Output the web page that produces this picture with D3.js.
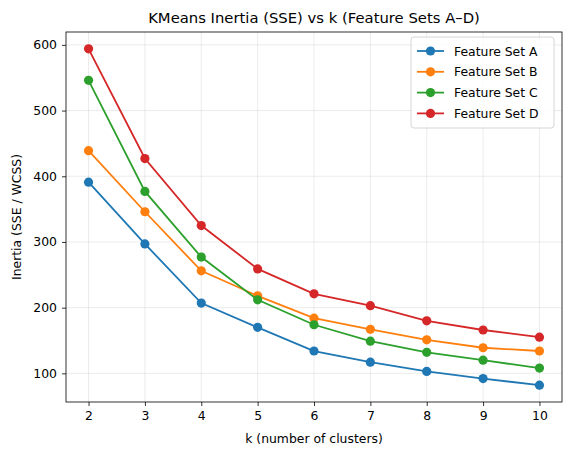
<!DOCTYPE html>
<html>
<head>
<meta charset="utf-8">
<script src="https://cdn.jsdelivr.net/npm/d3@7"></script>
<style>
  body { margin: 0; background: #fff; }
  text { font-family: "DejaVu Sans", sans-serif; }
</style>
</head>
<body>
<script>
// data
const ks = [2, 3, 4, 5, 6, 7, 8, 9, 10];
const setA = [391, 297, 207, 170, 134, 117, 103, 92, 82];
const setB = [439, 346, 256, 218, 184, 167, 151, 139, 134];
const setC = [546, 377, 277, 212, 174, 149, 132, 120, 108];
const setD = [594, 427, 325, 259, 221, 203, 180, 166, 155];
const seriesNames = ["Feature Set A", "Feature Set B", "Feature Set C", "Feature Set D"];
const colors = ["#1f77b4", "#ff7f0e", "#2ca02c", "#d62728"];
const xTicks = ks;
const yTicks = [100, 200, 300, 400, 500, 600];

const W = 571, H = 455;
const margin = {top: 32, right: 9, bottom: 53, left: 66};
const width = W - margin.left - margin.right,
      height = H - margin.top - margin.bottom;

const svg = d3.select("body").append("svg")
  .attr("width", W).attr("height", H);
const g = svg.append("g")
  .attr("transform", "translate(" + margin.left + "," + margin.top + ")");

const x = d3.scaleLinear().domain([1.6, 10.4]).range([0, width]);
const y = d3.scaleLinear().domain([56.4, 619.6]).range([height, 0]);

// grid
g.append("g").selectAll("line").data(xTicks).join("line")
  .attr("x1", d => x(d)).attr("x2", d => x(d)).attr("y1", 0).attr("y2", height)
  .attr("stroke", "#b0b0b0").attr("stroke-opacity", 0.3).attr("stroke-width", 0.8);
g.append("g").selectAll("line").data(yTicks).join("line")
  .attr("y1", d => y(d)).attr("y2", d => y(d)).attr("x1", 0).attr("x2", width)
  .attr("stroke", "#b0b0b0").attr("stroke-opacity", 0.3).attr("stroke-width", 0.8);

const xAxis = g.append("g").attr("transform", "translate(0," + height + ")")
  .call(d3.axisBottom(x).tickValues(xTicks).tickSize(4).tickPadding(5));
const yAxis = g.append("g")
  .call(d3.axisLeft(y).tickValues(yTicks).tickSize(4).tickPadding(5));
[xAxis, yAxis].forEach(a => {
  a.select(".domain").remove();
  a.selectAll("text").attr("font-size", 12.4).attr("fill", "#000")
    .style("font-family", "DejaVu Sans");
  a.selectAll("line").attr("stroke", "#000").attr("stroke-width", 0.8);
});

g.append("rect").attr("width", width).attr("height", height)
  .attr("fill", "none").attr("stroke", "#000").attr("stroke-width", 0.8);

const all = [setA, setB, setC, setD];
const line = d3.line().x((d, i) => x(ks[i])).y(d => y(d));
all.forEach((vals, si) => {
  g.append("path").datum(vals)
    .attr("fill", "none").attr("stroke", colors[si]).attr("stroke-width", 1.8)
    .attr("d", line);
  g.append("g").selectAll("circle").data(vals).join("circle")
    .attr("cx", (d, i) => x(ks[i])).attr("cy", d => y(d)).attr("r", 4.6)
    .attr("fill", colors[si]);
});

// legend
const lg = g.append("g").attr("transform", "translate(" + (width - 151) + ",5)");
lg.append("rect").attr("width", 143).attr("height", 91).attr("rx", 3)
  .attr("fill", "#fff").attr("fill-opacity", 0.8)
  .attr("stroke", "#cccccc").attr("stroke-width", 0.8);
seriesNames.forEach((n, i) => {
  const yy = 14 + i * 20.8;
  lg.append("line").attr("x1", 6).attr("x2", 33).attr("y1", yy).attr("y2", yy)
    .attr("stroke", colors[i]).attr("stroke-width", 1.8);
  lg.append("circle").attr("cx", 19.5).attr("cy", yy).attr("r", 4.6).attr("fill", colors[i]);
  lg.append("text").attr("x", 43).attr("y", yy + 4.5).attr("font-size", 12.4).text(n);
});

svg.append("text").attr("x", margin.left + width / 2).attr("y", 23)
  .attr("text-anchor", "middle").attr("font-size", 14.8).text("KMeans Inertia (SSE) vs k (Feature Sets A–D)");
svg.append("text").attr("x", margin.left + width / 2).attr("y", H - 12)
  .attr("text-anchor", "middle").attr("font-size", 12.4).text("k (number of clusters)");
svg.append("text").attr("transform", "translate(21," + (margin.top + height / 2) + ") rotate(-90)")
  .attr("text-anchor", "middle").attr("font-size", 12.4).text("Inertia (SSE / WCSS)");
</script>
</body>
</html>
